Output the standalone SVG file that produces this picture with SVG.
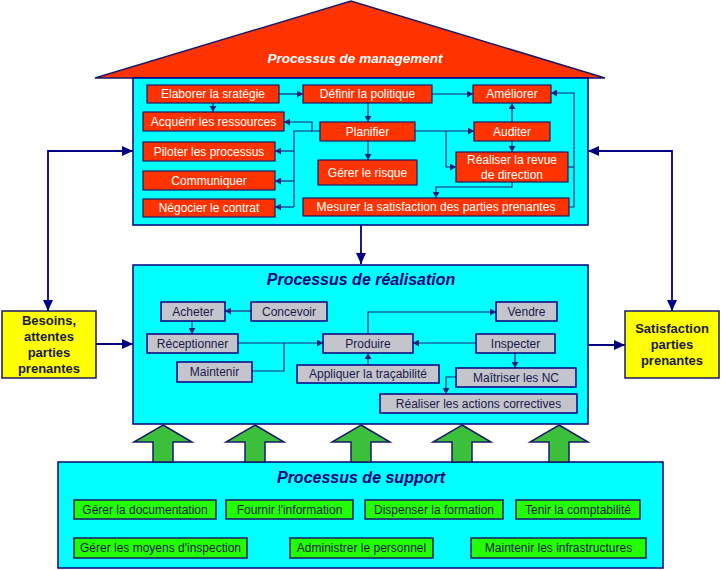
<svg xmlns="http://www.w3.org/2000/svg" width="721" height="570" viewBox="0 0 721 570">
<style>
  .frame{fill:#00FFFF;stroke:#000080;stroke-width:1.5}
  .mg rect{fill:#FF3300;stroke:#1A1A66;stroke-width:1.2}
  .mg text{fill:#FFFFFF;font-family:"Liberation Sans",Arial,sans-serif;font-size:12px;text-anchor:middle}
  .re rect{fill:#C4C4CC;stroke:#000080;stroke-width:1.5}
  .re text{fill:#1A1A4A;font-family:"Liberation Sans",Arial,sans-serif;font-size:12px;text-anchor:middle}
  .su rect{fill:#22FF00;stroke:#1A1A66;stroke-width:1.5}
  .su text{fill:#1A1A4A;font-family:"Liberation Sans",Arial,sans-serif;font-size:12px;text-anchor:middle}
  .side rect{fill:#FFFF00;stroke:#1A1A66;stroke-width:1.5}
  .side text{fill:#1A1A4A;font-family:"Liberation Sans",Arial,sans-serif;font-size:13px;font-weight:bold;text-anchor:middle}
  .title{font-family:"Liberation Sans",Arial,sans-serif;font-weight:bold;font-style:italic;text-anchor:middle}
  .c{fill:none;stroke:#1A237E;stroke-width:1.2}
  .cs{fill:none;stroke:#1A237E;stroke-width:1.2;marker-end:url(#ah)}
  .cb{fill:none;stroke:#000080;stroke-width:1.8;marker-end:url(#ab)}
  .ga{fill:#3CC03C;stroke:#1A1A66;stroke-width:1.5}
</style>
<defs>
  <marker id="ah" markerUnits="userSpaceOnUse" markerWidth="7" markerHeight="7" refX="6" refY="3.5" orient="auto">
    <path d="M0,0 L6,3.5 L0,7 z" fill="#1A237E"/>
  </marker>
  <marker id="ab" markerUnits="userSpaceOnUse" markerWidth="12" markerHeight="10" refX="11" refY="5" orient="auto-start-reverse">
    <path d="M0,0 L11,5 L0,10 z" fill="#000080"/>
  </marker>
</defs>

<!-- Management -->
<g id="management">
  <polygon points="95,78 351,1 605,78" fill="#FF3300" stroke="#1A1A66" stroke-width="1.5"/>
  <text class="title" x="355" y="63" font-size="13.5" fill="#FFFFFF">Processus de management</text>
  <rect class="frame" x="133" y="78" width="455" height="147"/>
</g>

<!-- Realisation frame -->
<g id="realisation">
  <rect class="frame" x="133" y="265" width="455" height="159"/>
  <text class="title" x="361" y="285" font-size="16" fill="#000080">Processus de réalisation</text>
</g>

<!-- Support frame -->
<g id="support">
  <rect class="frame" x="58" y="462" width="605" height="106"/>
  <text class="title" x="361" y="483" font-size="16" fill="#000080">Processus de support</text>
</g>

<!-- Connectors -->
<g id="connectors">
  <!-- management internal -->
  <path class="cs" d="M213,103 V112"/>
  <path class="cs" d="M279,94 H303"/>
  <path class="cs" d="M432,94 H473"/>
  <path class="cs" d="M368,103 V122"/>
  <path class="cs" d="M368,141 V160"/>
  <path class="cs" d="M320,131 H312 V122 H284"/>
  <path class="c" d="M312,131 H294 V207"/>
  <path class="cs" d="M294,151 H275"/>
  <path class="cs" d="M294,181 H275"/>
  <path class="cs" d="M294,207 H275"/>
  <path class="cs" d="M415,131 H474"/>
  <path class="cs" d="M446,131 V167 H456"/>
  <path class="cs" d="M512,122 V103"/>
  <path class="cs" d="M512,141 V152"/>
  <path class="cs" d="M512,182 V187 H436 V198"/>
  <path class="cs" d="M569,207 H574 V93 H551"/>
  <path class="c" d="M568,167 H574"/>
  <!-- management to realisation -->
  <path class="cb" d="M361,225 V264"/>
  <!-- side links -->
  <path class="cb" d="M96,344 H133"/>
  <path class="cb" d="M588,345 H625"/>
  <path class="cb" d="M133,151 H48 V311" style="marker-start:url(#ab)"/>
  <path class="cb" d="M588,151 H672 V311" style="marker-start:url(#ab)"/>
  <!-- realisation internal -->
  <path class="cs" d="M251,311 H225"/>
  <path class="cs" d="M192,321 V334"/>
  <path class="cs" d="M238,343 H323"/>
  <path class="c" d="M252,371 H284 V343"/>
  <path class="cs" d="M368,334 V312 H496"/>
  <path class="cs" d="M476,343 H413"/>
  <path class="cs" d="M368,365 V353"/>
  <path class="cs" d="M515,353 V368"/>
  <path class="cs" d="M456,377 H446 V394"/>
</g>

<!-- Management nodes -->
<g class="mg">
  <g id="m-elaborer"><rect x="147" y="85" width="132" height="18"/><text x="213" y="98">Elaborer la sratégie</text></g>
  <g id="m-acquerir"><rect x="143" y="112" width="141" height="19"/><text x="213.5" y="126">Acquérir les ressources</text></g>
  <g id="m-piloter"><rect x="143" y="142" width="132" height="19"/><text x="209" y="156">Piloter les processus</text></g>
  <g id="m-communiquer"><rect x="143" y="171" width="132" height="19"/><text x="209" y="185">Communiquer</text></g>
  <g id="m-negocier"><rect x="143" y="199" width="132" height="18"/><text x="209" y="212">Négocier le contrat</text></g>
  <g id="m-definir"><rect x="303" y="85" width="129" height="18"/><text x="367.5" y="98">Définir la politique</text></g>
  <g id="m-planifier"><rect x="320" y="122" width="95" height="19"/><text x="367.5" y="136">Planifier</text></g>
  <g id="m-risque"><rect x="318" y="160" width="99" height="25"/><text x="367.5" y="177">Gérer le risque</text></g>
  <g id="m-mesurer"><rect x="303" y="198" width="266" height="18"/><text x="436" y="211">Mesurer la satisfaction des parties prenantes</text></g>
  <g id="m-ameliorer"><rect x="473" y="85" width="78" height="18"/><text x="512" y="98">Améliorer</text></g>
  <g id="m-auditer"><rect x="474" y="122" width="76" height="19"/><text x="512" y="136">Auditer</text></g>
  <g id="m-revue"><rect x="456" y="152" width="112" height="30"/><text x="512" y="164">Réaliser la revue</text><text x="512" y="179">de direction</text></g>
</g>

<!-- Realisation nodes -->
<g class="re">
  <g id="r-acheter"><rect x="161" y="302" width="64" height="19"/><text x="193" y="316">Acheter</text></g>
  <g id="r-concevoir"><rect x="251" y="302" width="76" height="19"/><text x="289" y="316">Concevoir</text></g>
  <g id="r-receptionner"><rect x="147" y="334" width="91" height="19"/><text x="192.5" y="348">Réceptionner</text></g>
  <g id="r-maintenir"><rect x="177" y="362" width="75" height="20"/><text x="214.5" y="376">Maintenir</text></g>
  <g id="r-produire"><rect x="323" y="334" width="90" height="19"/><text x="368" y="348">Produire</text></g>
  <g id="r-tracabilite"><rect x="297" y="365" width="142" height="18"/><text x="368" y="378">Appliquer la traçabilité</text></g>
  <g id="r-vendre"><rect x="496" y="302" width="61" height="19"/><text x="526.5" y="316">Vendre</text></g>
  <g id="r-inspecter"><rect x="476" y="334" width="79" height="19"/><text x="515.5" y="348">Inspecter</text></g>
  <g id="r-nc"><rect x="456" y="368" width="120" height="19"/><text x="516" y="382">Maîtriser les NC</text></g>
  <g id="r-actions"><rect x="380" y="394" width="197" height="19"/><text x="478.5" y="408">Réaliser les actions correctives</text></g>
</g>

<!-- Green support arrows -->
<g id="support-arrows">
  <path class="ga" d="M163,425 L192,442 L173,442 L173,462 L153,462 L153,442 L134,442 Z"/>
  <path class="ga" d="M255,425 L284,442 L265,442 L265,462 L245,462 L245,442 L226,442 Z"/>
  <path class="ga" d="M361,425 L390,442 L371,442 L371,462 L351,462 L351,442 L332,442 Z"/>
  <path class="ga" d="M462,425 L491,442 L472,442 L472,462 L452,462 L452,442 L433,442 Z"/>
  <path class="ga" d="M559,425 L588,442 L569,442 L569,462 L549,462 L549,442 L530,442 Z"/>
</g>

<!-- Support nodes -->
<g class="su">
  <g id="s-doc"><rect x="74" y="500" width="142" height="19"/><text x="145" y="514">Gérer la documentation</text></g>
  <g id="s-info"><rect x="226" y="500" width="127" height="19"/><text x="289.5" y="514">Fournir l'information</text></g>
  <g id="s-formation"><rect x="365" y="500" width="138" height="19"/><text x="434" y="514">Dispenser la formation</text></g>
  <g id="s-compta"><rect x="516" y="500" width="124" height="19"/><text x="578" y="514">Tenir la comptabilité</text></g>
  <g id="s-moyens"><rect x="74" y="538" width="173" height="20"/><text x="160.5" y="552">Gérer les moyens d'inspection</text></g>
  <g id="s-personnel"><rect x="290" y="538" width="143" height="20"/><text x="361.5" y="552">Administrer le personnel</text></g>
  <g id="s-infra"><rect x="471" y="538" width="175" height="20"/><text x="558.5" y="552">Maintenir les infrastructures</text></g>
</g>

<!-- Side boxes -->
<g class="side">
  <g id="besoins"><rect x="2" y="311" width="94" height="67"/>
    <text x="49" y="325">Besoins,</text><text x="49" y="341">attentes</text><text x="49" y="357">parties</text><text x="49" y="373">prenantes</text></g>
  <g id="satisfaction"><rect x="625" y="311" width="94" height="67"/>
    <text x="672" y="333">Satisfaction</text><text x="672" y="349">parties</text><text x="672" y="365">prenantes</text></g>
</g>
</svg>
